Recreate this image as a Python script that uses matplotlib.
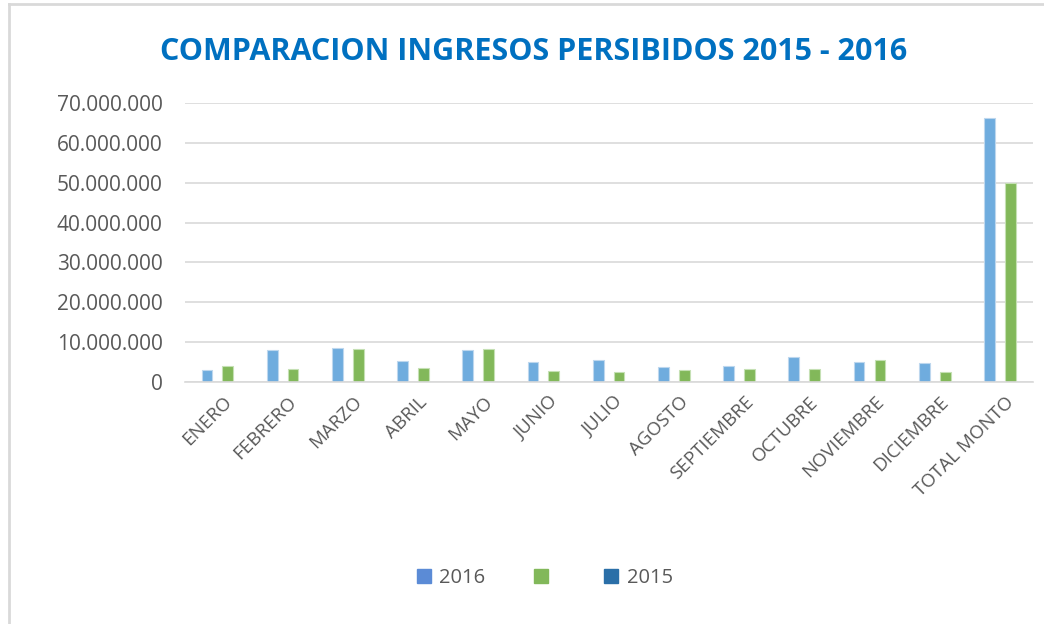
import numpy as np
import matplotlib.pyplot as plt
from matplotlib.patches import Patch
from matplotlib.ticker import FuncFormatter, MultipleLocator
from matplotlib.lines import Line2D
from matplotlib.transforms import ScaledTranslation

plt.rcParams['font.family'] = ['Open Sans', 'DejaVu Sans']

# Ingresos mensuales (pesos)
meses = ["ENERO", "FEBRERO", "MARZO", "ABRIL", "MAYO", "JUNIO", "JULIO",
         "AGOSTO", "SEPTIEMBRE", "OCTUBRE", "NOVIEMBRE", "DICIEMBRE", "TOTAL MONTO"]
ingresos_2016 = [3000000, 8050000, 8400000, 5300000, 8100000, 4900000, 5400000,
                 3800000, 3950000, 6150000, 4900000, 4800000, 66300000]
ingresos_otro = [3950000, 3200000, 8300000, 3600000, 8300000, 2750000, 2400000,
                 3000000, 3200000, 3350000, 5550000, 2500000, 49800000]
leyenda = ["2016", "", "2015"]

c_azul = "#6FACDE"
c_verde = "#82B85A"
c_2015 = "#2A6FA8"

fig = plt.figure(figsize=(10.44, 6.24), dpi=100)
ax = fig.add_axes([0.177, 0.388, 0.812, 0.447])

x = np.arange(len(meses))
w = 0.165
ax.bar(x - 0.16, ingresos_2016, width=w, color=c_azul, edgecolor="#BDD7EE", linewidth=0.8)
ax.bar(x + 0.16, ingresos_otro, width=w, color=c_verde, edgecolor="#C5E0B4", linewidth=0.8)

ax.set_xlim(-0.5, len(meses) - 0.5)
ax.set_ylim(0, 70000000)
ax.yaxis.set_major_locator(MultipleLocator(10000000))
ax.yaxis.set_major_formatter(FuncFormatter(lambda v, p: f"{int(v):,}".replace(",", ".")))
ax.grid(axis="y", color="#D9D9D9", linewidth=1.2)
ax.set_axisbelow(True)
for s in ["top", "right", "left"]:
    ax.spines[s].set_visible(False)
ax.spines["bottom"].set_color("#D9D9D9")
ax.spines["bottom"].set_linewidth(1.2)
ax.tick_params(axis="both", length=0)
ax.tick_params(axis="y", labelsize=15, labelcolor="#595959", pad=16)
ax.set_xticks(x)
ax.set_xticklabels(meses, rotation=45, ha="right", rotation_mode="anchor",
                   fontsize=13.5, color="#595959")
ax.tick_params(axis="x", pad=8)
# desplazar un poco las etiquetas a la derecha
for lbl in ax.get_xticklabels():
    lbl.set_transform(lbl.get_transform() + ScaledTranslation(0.05, 0, fig.dpi_scale_trans))

fig.text(0.511, 0.917, "COMPARACION INGRESOS PERSIBIDOS 2015 - 2016",
         ha="center", va="center", fontsize=22, fontweight="bold", color="#0070C0")

handles = [Patch(color="#5B8BD6"), Patch(color=c_verde), Patch(color=c_2015)]
fig.legend(handles, leyenda, loc="center", bbox_to_anchor=(0.522, 0.073), ncol=3,
           frameon=False, fontsize=14.5, handlelength=0.7, handleheight=0.7,
           columnspacing=2.4, handletextpad=0.4, labelcolor="#595959")

# borde del gráfico
fig.add_artist(Line2D([0.009, 0.009], [0, 0.994], color="#D9D9D9", lw=2, transform=fig.transFigure))
fig.add_artist(Line2D([0.009, 1.0], [0.994, 0.994], color="#D9D9D9", lw=2, transform=fig.transFigure))

fig.savefig("out.png", dpi=100)
